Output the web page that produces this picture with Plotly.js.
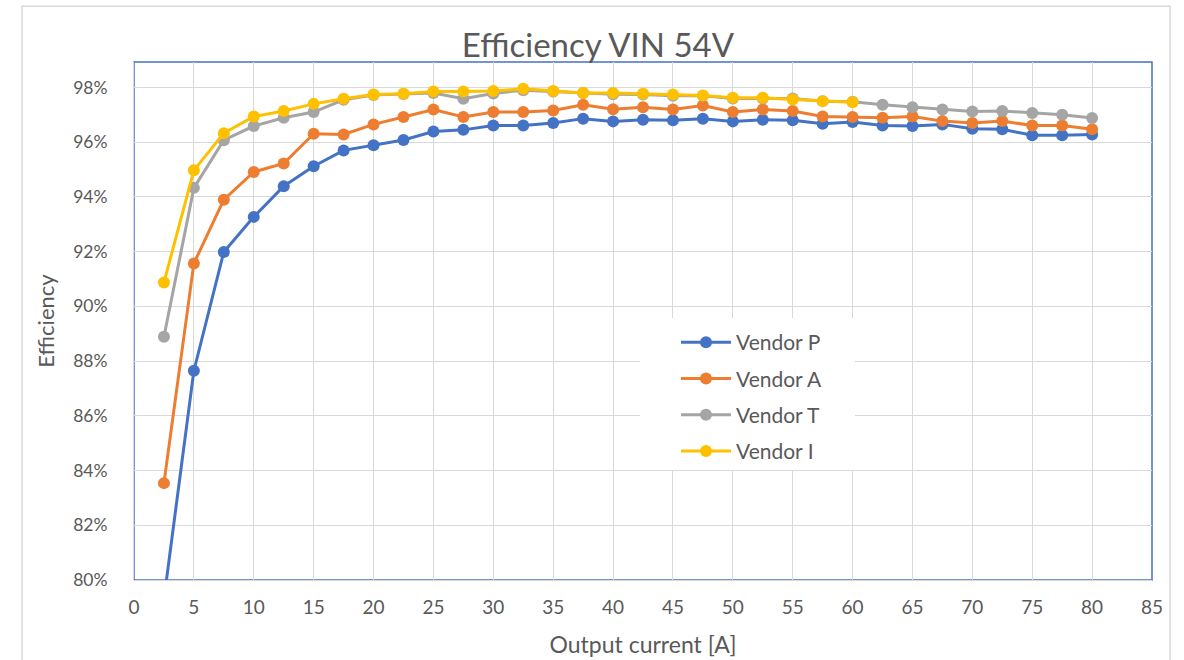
<!DOCTYPE html>
<html>
<head>
<meta charset="utf-8">
<script src="https://cdn.plot.ly/plotly-3.0.1.min.js"></script>
<style>
  html, body { margin: 0; padding: 0; background: #fff; }
  #chart { width: 1184px; height: 660px; }
</style>
</head>
<body>
<div id="chart"></div>
<script>
// output current [A]
const currents = [2.5, 5, 7.5, 10, 12.5, 15, 17.5, 20, 22.5, 25, 27.5, 30, 32.5, 35, 37.5, 40,
  42.5, 45, 47.5, 50, 52.5, 55, 57.5, 60, 62.5, 65, 67.5, 70, 72.5, 75, 77.5, 80];

// efficiency in %
const vendorP = [79.3, 87.65, 91.99, 93.27, 94.39, 95.12, 95.7, 95.89, 96.08, 96.39, 96.45, 96.61,
  96.61, 96.7, 96.86, 96.76, 96.82, 96.8, 96.86, 96.76, 96.82, 96.8, 96.67, 96.74,
  96.61, 96.59, 96.65, 96.49, 96.47, 96.25, 96.25, 96.28];
const vendorA = [83.54, 91.57, 93.9, 94.91, 95.22, 96.31, 96.28, 96.65, 96.92, 97.19, 96.92, 97.1,
  97.1, 97.16, 97.37, 97.2, 97.28, 97.19, 97.34, 97.1, 97.19, 97.14, 96.94, 96.92,
  96.89, 96.94, 96.77, 96.7, 96.77, 96.61, 96.61, 96.47];
const vendorT = [88.89, 94.33, 96.07, 96.59, 96.89, 97.1, 97.55, 97.72, 97.76, 97.8, 97.59, 97.78,
  97.9, 97.85, 97.8, 97.75, 97.74, 97.7, 97.7, 97.6, 97.6, 97.6, 97.5, 97.48,
  97.37, 97.28, 97.19, 97.12, 97.14, 97.07, 97.0, 96.88];
// vendor I was only measured up to 60 A
const vendorI = [90.87, 94.97, 96.33, 96.94, 97.14, 97.4, 97.59, 97.74, 97.77, 97.85, 97.85, 97.87,
  97.95, 97.87, 97.8, 97.8, 97.77, 97.74, 97.71, 97.62, 97.62, 97.56, 97.5, 97.46];

const names = ['Vendor P', 'Vendor A', 'Vendor T', 'Vendor I'];
const colors = ['#4472C4', '#ED7D31', '#A5A5A5', '#FFC000'];
const series = [vendorP, vendorA, vendorT, vendorI];

const textColor = '#595959';
const font = 'Lato, "Open Sans", sans-serif';

const traces = series.map((vals, i) => ({
  x: currents.slice(0, vals.length),
  y: vals,
  type: 'scatter',
  mode: 'lines+markers',
  name: names[i],
  legendgroup: names[i],
  line: { color: colors[i], width: 3 },
  marker: { color: colors[i], size: 12 }
}));

const layout = {
  width: 1184,
  height: 660,
  paper_bgcolor: '#fff',
  plot_bgcolor: '#fff',
  margin: { l: 134, r: 32, t: 62, b: 80 },
  font: { family: font, color: textColor, size: 18 },
  title: {
    text: 'Efficiency VIN 54V',
    font: { family: font, size: 33, color: textColor },
    xref: 'container', x: 0.505, xanchor: 'center',
    yref: 'container', y: 1 - 45 / 660, yanchor: 'middle'
  },
  xaxis: {
    range: [0, 85],
    dtick: 5,
    tick0: 0,
    showgrid: true,
    gridcolor: '#D9D9D9',
    gridwidth: 1,
    zeroline: false,
    showline: true,
    linecolor: '#D9D9D9',
    ticks: '',
    ticklabelstandoff: 10,
    tickfont: { size: 19, color: textColor },
    title: { text: 'Output current [A]', font: { size: 23, color: textColor }, standoff: 20 }
  },
  yaxis: {
    range: [80, 98.93],
    dtick: 2,
    tick0: 80,
    ticksuffix: '%',
    showgrid: true,
    gridcolor: '#D9D9D9',
    gridwidth: 1,
    zeroline: false,
    showline: true,
    linecolor: '#D9D9D9',
    ticks: '',
    ticklabelstandoff: 22,
    tickfont: { size: 17.5, color: textColor },
    title: { text: 'Efficiency', font: { size: 22, color: textColor }, standoff: 12 }
  },
  legend: {
    x: (676 - 134) / 1018, y: (580 - 322) / 518,
    xanchor: 'left', yanchor: 'top',
    bgcolor: 'rgba(255,255,255,0)',
    borderwidth: 0,
    itemwidth: 50,
    traceorder: 'grouped',
    tracegroupgap: 6,
    font: { size: 21, color: textColor }
  },
  shapes: [
    // plot-area outline (top/right show blue)
    { type: 'rect', xref: 'paper', yref: 'paper', x0: 0, x1: 1, y0: 0, y1: 1,
      line: { color: '#4472C4', width: 1.5 }, layer: 'below' },
    // white legend box hiding the grid
    { type: 'rect', xref: 'paper', yref: 'paper',
      x0: (640 - 134) / 1018, x1: (855 - 134) / 1018,
      y0: (580 - 470) / 518, y1: (580 - 318) / 518,
      fillcolor: '#fff', line: { width: 0 }, layer: 'above' },
    // chart border
    { type: 'rect', xref: 'paper', yref: 'paper', x0: -0.11, x1: 1.0177, y0: -0.16, y1: 1.1075,
      line: { color: '#D9D9D9', width: 1.5 } }
  ]
};

Plotly.newPlot('chart', traces, layout, { displayModeBar: false, staticPlot: true });
</script>
</body>
</html>
